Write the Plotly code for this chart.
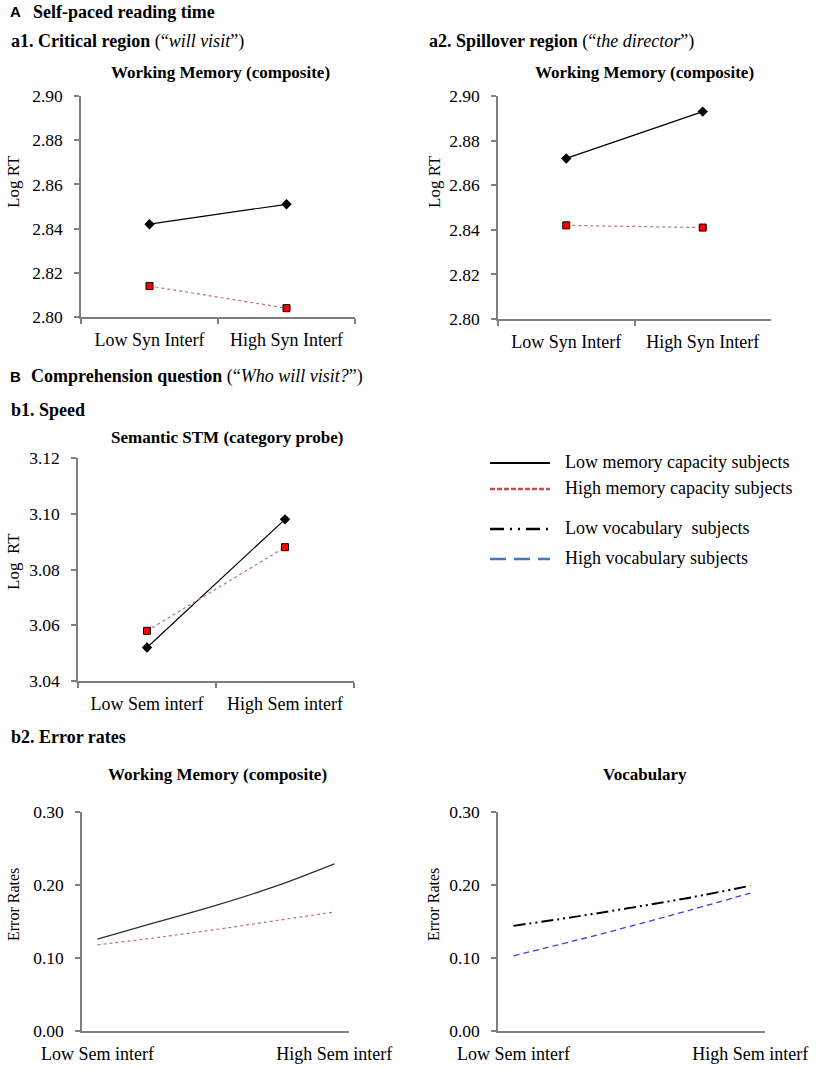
import plotly.graph_objects as go

# ---------------- data ----------------
syn_cats = ["Low Syn Interf", "High Syn Interf"]
sem_cats = ["Low Sem interf", "High Sem interf"]

a1_low_mem = [2.842, 2.851]
a1_high_mem = [2.814, 2.804]
a2_low_mem = [2.872, 2.893]
a2_high_mem = [2.842, 2.841]

b1_low_mem = [3.052, 3.098]
b1_high_mem = [3.058, 3.088]

b2_x = [0, 0.25, 0.5, 0.75, 1]
b2_wm_low = [0.126, 0.149, 0.172, 0.198, 0.229]
b2_wm_high = [0.118, 0.128, 0.139, 0.151, 0.163]
b2_voc_low = [0.144, 0.156, 0.169, 0.183, 0.199]
b2_voc_high = [0.103, 0.123, 0.144, 0.166, 0.189]

rt_ticks_a = [2.80, 2.82, 2.84, 2.86, 2.88, 2.90]
rt_ticks_b = [3.04, 3.06, 3.08, 3.10, 3.12]
err_ticks = [0.00, 0.10, 0.20, 0.30]

legend_labels = ["Low memory capacity subjects", "High memory capacity subjects",
                 "Low vocabulary  subjects", "High vocabulary subjects"]

# ---------------- styling ----------------
W, H = 816, 1069
SERIF = "Liberation Serif"
SANS = "Liberation Sans"
AXC = "#7f7f7f"
BLACK = "#000000"
REDLINE = "#c07070"
REDMK = "#ff0000"

def px_x(a, b):
    return [a / W, b / W]

def px_y(top, bottom):
    return [1 - bottom / H, 1 - top / H]

fig = go.Figure()

def add_rt(xref, yref, cats, low, high):
    fig.add_trace(go.Scatter(x=cats, y=low,
                             mode="lines+markers", xaxis=xref, yaxis=yref,
                             line=dict(color=BLACK, width=1.2),
                             marker=dict(symbol="diamond", size=8, color=BLACK),
                             showlegend=False))
    fig.add_trace(go.Scatter(x=cats, y=high,
                             mode="lines+markers", xaxis=xref, yaxis=yref,
                             line=dict(color=REDLINE, width=1.2, dash="dot"),
                             marker=dict(symbol="square", size=7, color=REDMK,
                                         line=dict(color=BLACK, width=1)),
                             showlegend=False))

add_rt("x", "y", syn_cats, a1_low_mem, a1_high_mem)
add_rt("x2", "y2", syn_cats, a2_low_mem, a2_high_mem)
add_rt("x3", "y3", sem_cats, b1_low_mem, b1_high_mem)

fig.add_trace(go.Scatter(x=b2_x, y=b2_wm_low, mode="lines", xaxis="x4", yaxis="y4",
                         line=dict(color="#303030", width=1.3, shape="spline"), showlegend=False))
fig.add_trace(go.Scatter(x=b2_x, y=b2_wm_high, mode="lines", xaxis="x4", yaxis="y4",
                         line=dict(color=REDLINE, width=1.2, dash="dot", shape="spline"), showlegend=False))
fig.add_trace(go.Scatter(x=b2_x, y=b2_voc_low, mode="lines", xaxis="x5", yaxis="y5",
                         line=dict(color=BLACK, width=2, dash="12px,4px,2px,4px,2px,4px", shape="spline"),
                         showlegend=False))
fig.add_trace(go.Scatter(x=b2_x, y=b2_voc_high, mode="lines", xaxis="x5", yaxis="y5",
                         line=dict(color="#4040d8", width=1.3, dash="6px,4px", shape="spline"),
                         showlegend=False))

xtickfont = dict(family=SERIF, size=18, color=BLACK)
ytickfont = dict(family=SERIF, size=17.5, color=BLACK)

def cat_xaxis(dom, anchor, cats):
    return dict(domain=dom, anchor=anchor, type="category", categoryarray=cats,
                range=[-0.5, 1.5], tickson="boundaries", ticks="outside", ticklen=5,
                tickcolor=AXC, tickwidth=1.5, showline=True, linecolor=AXC, linewidth=1.5,
                showgrid=False, zeroline=False, tickfont=xtickfont, fixedrange=True,
                ticklabelstandoff=6, automargin=False)

def num_xaxis(dom, anchor, cats):
    return dict(domain=dom, anchor=anchor, range=[-0.065, 1.062], tickvals=[0, 1],
                ticktext=cats, ticks="", showline=True, linecolor=AXC, linewidth=1.5,
                showgrid=False, zeroline=False, tickfont=xtickfont, fixedrange=True,
                ticklabelstandoff=6, automargin=False)

def yaxis(dom, anchor, rng, vals, fmt):
    return dict(domain=dom, anchor=anchor, range=rng, tickvals=vals,
                ticktext=[fmt.format(v) for v in vals], ticks="outside", ticklen=5,
                tickcolor=AXC, tickwidth=1.5, showline=True, linecolor=AXC, linewidth=1.5,
                showgrid=False, zeroline=False, tickfont=ytickfont, ticklabelstandoff=8,
                fixedrange=True, automargin=False)

fig.update_layout(
    width=W, height=H, margin=dict(l=0, r=0, t=0, b=0, autoexpand=False),
    paper_bgcolor="white", plot_bgcolor="white",
    xaxis=cat_xaxis(px_x(81, 355), "y", syn_cats),
    yaxis=yaxis(px_y(96, 317), "x", [2.80, 2.90], rt_ticks_a, "{:.2f}"),
    xaxis2=cat_xaxis(px_x(498, 771), "y2", syn_cats),
    yaxis2=yaxis(px_y(96, 319), "x2", [2.80, 2.90], rt_ticks_a, "{:.2f}"),
    xaxis3=cat_xaxis(px_x(78, 354), "y3", sem_cats),
    yaxis3=yaxis(px_y(458, 681), "x3", [3.04, 3.12], rt_ticks_b, "{:.2f}"),
    xaxis4=num_xaxis(px_x(82, 349), "y4", sem_cats),
    yaxis4=yaxis(px_y(812, 1031), "x4", [0, 0.30], err_ticks, "{:.2f}"),
    xaxis5=num_xaxis(px_x(498, 765), "y5", sem_cats),
    yaxis5=yaxis(px_y(812, 1031), "x5", [0, 0.30], err_ticks, "{:.2f}"),
)

ann = []

def text(x, y, s, size=16, xanchor="left", angle=0, family=SERIF):
    ann.append(dict(x=x / W, y=1 - y / H, xref="paper", yref="paper", text=s,
                    showarrow=False, xanchor=xanchor, yanchor="middle", textangle=angle,
                    font=dict(family=family, size=size, color=BLACK)))

# section headings
text(8, 12, "<b>A</b>", 15, family=SANS)
text(31, 12, "<b>Self-paced reading time</b>", 18)
text(9, 42, "<b>a1. Critical region</b> (“<i>will visit</i>”)", 18)
text(427, 42, "<b>a2. Spillover region</b> (“<i>the director</i>”)", 18)
text(8, 377, "<b>B</b>", 15, family=SANS)
text(29, 377, "<b>Comprehension question</b> (“<i>Who will visit?</i>”)", 18)
text(9, 410, "<b>b1. Speed</b>", 18)
text(9, 737, "<b>b2. Error rates</b>", 18)

# panel titles
text(221, 73, "<b>Working Memory (composite)</b>", 17, "center")
text(644, 73, "<b>Working Memory (composite)</b>", 17, "center")
text(227, 438, "<b>Semantic STM (category probe)</b>", 17, "center")
text(217, 774, "<b>Working Memory (composite)</b>", 17, "center")
text(645, 774, "<b>Vocabulary</b>", 17, "center")

# axis titles
text(14, 182, "Log RT", 17, "center", -90)
text(435, 182, "Log RT", 17, "center", -90)
text(13, 562, "Log  RT", 17, "center", -90)
text(13, 905, "Error Rates", 16, "center", -90)
text(433, 905, "Error Rates", 16, "center", -90)

# legend (key)
legend_rows = [
    (463, BLACK, "solid", 2.2),
    (489, "#c0504d", "5px,2px", 2.6),
    (529, BLACK, "14px,6px,2px,6px,2px,6px", 2.6),
    (559, "#4472c4", "16px,8px", 2.4),
]
shapes = []
for (yy, col, dash, wd), lab in zip(legend_rows, legend_labels):
    shapes.append(dict(type="line", xref="paper", yref="paper",
                       x0=490 / W, x1=550 / W, y0=1 - yy / H, y1=1 - yy / H,
                       line=dict(color=col, width=wd, dash=dash)))
    text(563, yy - 1, lab, 18)

fig.update_layout(annotations=ann, shapes=shapes)
fig.write_html("out.html", config={"displayModeBar": False},
               post_script="document.body.style.margin='0';document.body.style.overflow='hidden';")
